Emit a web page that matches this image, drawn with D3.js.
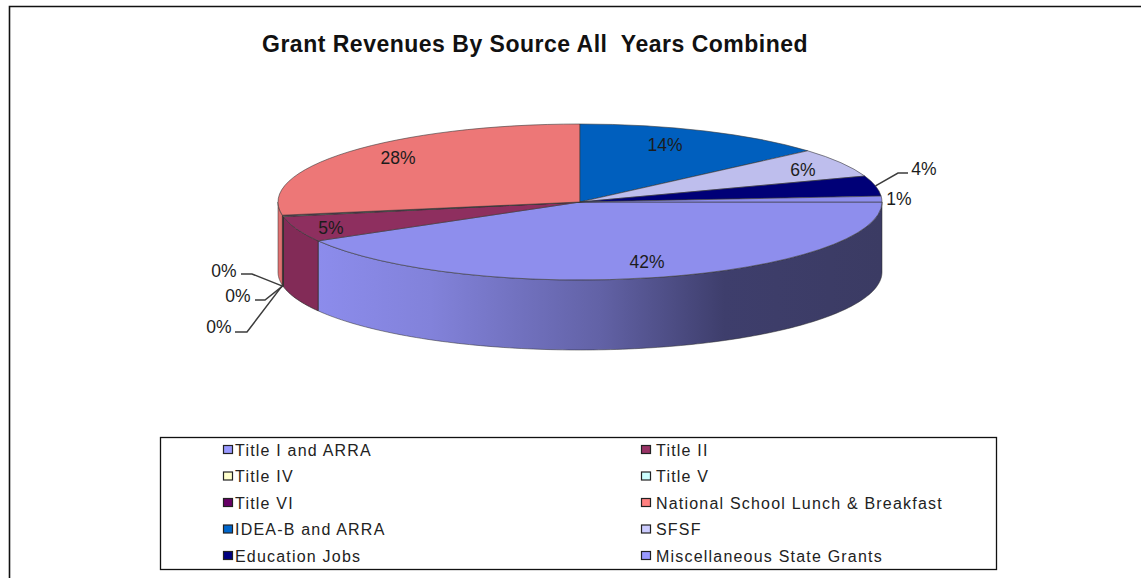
<!DOCTYPE html>
<html>
<head>
<meta charset="utf-8">
<script src="https://cdn.jsdelivr.net/npm/d3@7"></script>
<style>
  html, body { margin: 0; padding: 0; background: #fff; }
  svg { display: block; font-family: "Liberation Sans", Arial, sans-serif; }
</style>
</head>
<body>
<svg id="chart" width="1141" height="578"></svg>
<script>
// ── Data ──────────────────────────────────────────────────────────────────────
const categories = ['Title I and ARRA', 'Title II', 'Title IV', 'Title V', 'Title VI',
  'National School Lunch & Breakfast', 'IDEA-B and ARRA', 'SFSF', 'Education Jobs', 'Miscellaneous State Grants'];
const values = [41.7, 5.3, 0.1, 0.1, 0.1, 27.7, 13.6, 6.0, 4.2, 1.2];
const colors = ['#9999ff', '#993366', '#ffffcc', '#ccffff', '#660066',
  '#ff8080', '#0066cc', '#ccccff', '#000080', '#9999ff'];

// ── Layout ────────────────────────────────────────────────────────────────────
const CX = 580, CY = 202, RX = 302, RY = 78, DEPTH = 70;
const FIRST_ANGLE = Math.PI / 2;   // first slice starts at 3 o'clock
const TAU = 2 * Math.PI;
// label centres, same order as values
const labelPos = [[647, 262], [331, 228], [224, 271], [238, 296], [219, 327],
  [398, 158], [665, 145], [803, 170], [924, 169], [899, 199]];
// leader lines: slice index + the elbow and end next to the label
const leaders = [
  {i: 2, pts: [[252, 274], [241, 274]]},
  {i: 3, pts: [[265, 300], [255, 300]]},
  {i: 4, pts: [[247, 332], [235, 332]]},
  {i: 8, pts: [[898, 173], [908, 173]]}
];

const svg = d3.select('#chart');
const px = a => CX + RX * Math.sin(a);
const py = (a, dz = 0) => CY - RY * Math.cos(a) + dz;
const shade = (c, k) => { const r = d3.rgb(c); return d3.rgb(r.r * k, r.g * k, r.b * k).formatHex(); };

const arcs = d3.pie().sort(null)
  .startAngle(FIRST_ANGLE).endAngle(FIRST_ANGLE + TAU)(values);

// ── Frame and title ───────────────────────────────────────────────────────────
svg.append('path').attr('d', 'M9.5,578V6.5H1141')
  .attr('fill', 'none').attr('stroke', '#111').attr('stroke-width', 1.6);

svg.append('text').attr('x', 262).attr('y', 52)
  .attr('font-size', 23).attr('font-weight', 'bold').attr('fill', '#111')
  .attr('letter-spacing', 0.5)
  .style('white-space', 'pre')
  .text('Grant Revenues By Source All  Years Combined');

// ── Side wall ─────────────────────────────────────────────────────────────────
const wallGrad = svg.append('defs').append('linearGradient')
  .attr('id', 'wallGrad').attr('gradientUnits', 'userSpaceOnUse')
  .attr('x1', 318).attr('x2', 882).attr('y1', 0).attr('y2', 0);
[[0, '#8c8cec'], [0.2, '#8282da'], [0.5, '#6262a6'], [0.72, '#3e3e6c'], [1, '#3b3b63']]
  .forEach(([o, c]) => wallGrad.append('stop').attr('offset', o).attr('stop-color', c));

const wallPath = (a0, a1) => {
  const n = Math.max(2, Math.ceil((a1 - a0) / 0.02));
  const ts = d3.range(n + 1).map(k => a0 + (a1 - a0) * k / n);
  const pts = ts.map(t => [px(t), py(t)]).concat(ts.slice().reverse().map(t => [px(t), py(t, DEPTH)]));
  return d3.line()(pts) + 'Z';
};

// only the front half of the rim shows, from 3 o'clock round to 9 o'clock
arcs.forEach((d, i) => {
  const a0 = Math.max(d.startAngle, Math.PI / 2), a1 = Math.min(d.endAngle, 3 * Math.PI / 2);
  if (a1 <= a0) return;
  svg.append('path').attr('d', wallPath(a0, a1))
    .attr('fill', i === 0 ? 'url(#wallGrad)' : shade(colors[i], i === 5 ? 0.88 : 0.85))
    .attr('stroke', '#2a2a2a').attr('stroke-width', i === 0 || i === 5 ? 0.5 : 0.7)
    .attr('stroke-linejoin', 'round');
});

// ── Top surface ───────────────────────────────────────────────────────────────
const arcGen = d3.arc().innerRadius(0).outerRadius(RX);
svg.append('g').attr('transform', `translate(${CX},${CY}) scale(1,${RY / RX})`)
  .selectAll('path').data(arcs).join('path')
  .attr('d', arcGen)
  .attr('fill', (d, i) => shade(colors[i], 0.93))
  .attr('stroke', '#3a3a3a').attr('stroke-width', 0.6)
  .attr('vector-effect', 'non-scaling-stroke');

// ── Leader lines ──────────────────────────────────────────────────────────────
leaders.forEach(l => {
  const mid = (arcs[l.i].startAngle + arcs[l.i].endAngle) / 2;
  const wallDrop = l.i === 8 ? 0 : DEPTH;   // left labels hang from the rim's lower edge
  const start = [px(mid), py(mid, wallDrop)];
  svg.append('path').attr('d', d3.line()([start, ...l.pts]))
    .attr('fill', 'none').attr('stroke', '#3c3c3c').attr('stroke-width', 1.5);
});

// ── Percent labels ────────────────────────────────────────────────────────────
svg.append('g').selectAll('text').data(values).join('text')
  .attr('x', (d, i) => labelPos[i][0]).attr('y', (d, i) => labelPos[i][1])
  .attr('text-anchor', 'middle').attr('dominant-baseline', 'central')
  .attr('font-size', 17.5).attr('fill', '#1c1c1c')
  .text(d => `${Math.round(d)}%`);

// ── Legend ────────────────────────────────────────────────────────────────────
svg.append('rect').attr('x', 160.5).attr('y', 437.5).attr('width', 836).attr('height', 132)
  .attr('fill', '#fff').attr('stroke', '#111').attr('stroke-width', 1.3);

const rowY = d3.scalePoint().domain(d3.range(5)).range([450, 556]);
const swatchX = [223, 641], textX = [235, 656];
const legend = svg.append('g').selectAll('g').data(categories).join('g')
  .attr('transform', (d, i) => `translate(0,${rowY(Math.floor(i / 2))})`);
legend.append('rect').attr('x', (d, i) => swatchX[i % 2] + 0.5).attr('y', -4.5)
  .attr('width', 9).attr('height', 8)
  .attr('fill', (d, i) => colors[i]).attr('stroke', '#222').attr('stroke-width', 1.2);
legend.append('text').attr('x', (d, i) => textX[i % 2]).attr('y', 0)
  .attr('dominant-baseline', 'central')
  .attr('font-size', 16).attr('letter-spacing', 1.2).attr('fill', '#222')
  .text(d => d);
</script>
</body>
</html>
